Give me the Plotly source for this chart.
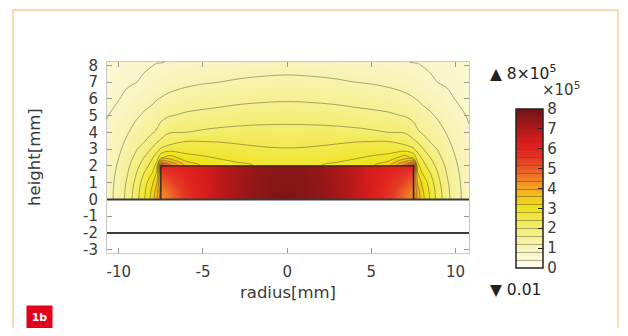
import plotly.graph_objects as go

# ---- data (field in units of 1e5) ----
outer_x = [-10.8, -10, -9.5, -9, -8.5, -8, -7.75, -7.5, -7, -6, -5, -4, -3, -2, -1, 0,
           1, 2, 3, 4, 5, 6, 7, 7.5, 7.75, 8, 8.5, 9, 9.5, 10, 10.8]
outer_y = [0, 0.5, 1, 1.5, 2, 2.5, 3, 3.5, 4, 5, 6, 7, 8.2]
outer_z = [
    [1.00, 1.35, 1.72, 2.20, 2.75, 3.40, 3.90, 4.70, 4.60, 3.50, 3.15, 2.98, 2.88, 2.80, 2.76, 2.75,
     2.76, 2.80, 2.88, 2.98, 3.15, 3.50, 4.60, 4.70, 3.90, 3.40, 2.75, 2.20, 1.72, 1.35, 1.00],
    [1.00, 1.34, 1.70, 2.16, 2.70, 3.30, 3.80, 4.60, 4.60, 3.50, 3.15, 2.98, 2.88, 2.80, 2.76, 2.75,
     2.76, 2.80, 2.88, 2.98, 3.15, 3.50, 4.60, 4.60, 3.80, 3.30, 2.70, 2.16, 1.70, 1.34, 1.00],
    [0.99, 1.32, 1.65, 2.08, 2.60, 3.15, 3.52, 4.60, 4.60, 3.50, 3.15, 2.98, 2.88, 2.80, 2.76, 2.75,
     2.76, 2.80, 2.88, 2.98, 3.15, 3.50, 4.60, 4.60, 3.52, 3.15, 2.60, 2.08, 1.65, 1.32, 0.99],
    [0.97, 1.29, 1.58, 1.97, 2.43, 2.85, 3.28, 4.80, 4.60, 3.50, 3.15, 2.98, 2.88, 2.80, 2.76, 2.75,
     2.76, 2.80, 2.88, 2.98, 3.15, 3.50, 4.60, 4.80, 3.28, 2.85, 2.43, 1.97, 1.58, 1.29, 0.97],
    [0.95, 1.25, 1.50, 1.85, 2.20, 2.60, 2.95, 5.60, 4.60, 3.50, 3.15, 2.98, 2.88, 2.80, 2.76, 2.75,
     2.76, 2.80, 2.88, 2.98, 3.15, 3.50, 4.60, 5.60, 2.95, 2.60, 2.20, 1.85, 1.50, 1.25, 0.95],
    [0.92, 1.20, 1.42, 1.68, 2.00, 2.37, 2.60, 3.10, 3.40, 2.95, 2.85, 2.76, 2.70, 2.65, 2.62, 2.61,
     2.62, 2.65, 2.70, 2.76, 2.85, 2.95, 3.40, 3.10, 2.60, 2.37, 2.00, 1.68, 1.42, 1.20, 0.92],
    [0.89, 1.14, 1.33, 1.55, 1.78, 2.05, 2.25, 2.45, 2.60, 2.62, 2.60, 2.55, 2.50, 2.46, 2.43, 2.42,
     2.43, 2.46, 2.50, 2.55, 2.60, 2.62, 2.60, 2.45, 2.25, 2.05, 1.78, 1.55, 1.33, 1.14, 0.89],
    [0.86, 1.08, 1.25, 1.44, 1.56, 1.82, 1.93, 2.05, 2.20, 2.38, 2.38, 2.37, 2.34, 2.31, 2.29, 2.28,
     2.29, 2.31, 2.34, 2.37, 2.38, 2.38, 2.20, 2.05, 1.93, 1.82, 1.56, 1.44, 1.25, 1.08, 0.86],
    [0.83, 1.02, 1.17, 1.33, 1.45, 1.57, 1.65, 1.80, 1.98, 2.00, 2.06, 2.10, 2.12, 2.13, 2.13, 2.13,
     2.13, 2.13, 2.12, 2.10, 2.06, 2.00, 1.98, 1.80, 1.65, 1.57, 1.45, 1.33, 1.17, 1.02, 0.83],
    [0.77, 0.90, 1.02, 1.14, 1.25, 1.32, 1.40, 1.48, 1.58, 1.66, 1.70, 1.75, 1.80, 1.83, 1.85, 1.86,
     1.85, 1.83, 1.80, 1.75, 1.70, 1.66, 1.58, 1.48, 1.40, 1.32, 1.25, 1.14, 1.02, 0.90, 0.77],
    [0.71, 0.79, 0.87, 0.96, 1.06, 1.14, 1.18, 1.22, 1.29, 1.38, 1.43, 1.45, 1.49, 1.52, 1.54, 1.55,
     1.54, 1.52, 1.49, 1.45, 1.43, 1.38, 1.29, 1.22, 1.18, 1.14, 1.06, 0.96, 0.87, 0.79, 0.71],
    [0.65, 0.71, 0.76, 0.79, 0.85, 0.92, 0.95, 1.00, 1.05, 1.12, 1.17, 1.20, 1.24, 1.27, 1.29, 1.30,
     1.29, 1.27, 1.24, 1.20, 1.17, 1.12, 1.05, 1.00, 0.95, 0.92, 0.85, 0.79, 0.76, 0.71, 0.65],
    [0.58, 0.63, 0.67, 0.70, 0.74, 0.77, 0.79, 0.79, 0.81, 0.85, 0.90, 0.94, 0.97, 0.99, 1.01, 1.02,
     1.01, 0.99, 0.97, 0.94, 0.90, 0.85, 0.81, 0.79, 0.79, 0.77, 0.74, 0.70, 0.67, 0.63, 0.58],
]

inner_x = [-7.5, -7, -6.5, -6, -5, -4, -3, -2, -1, 0, 1, 2, 3, 4, 5, 6, 6.5, 7, 7.5]
inner_y = [0, 0.5, 1, 1.5, 2]
inner_z = [
    [4.2, 4.6, 5.1, 5.6, 6.25, 6.75, 7.15, 7.45, 7.65, 7.7, 7.65, 7.45, 7.15, 6.75, 6.25, 5.6, 5.1, 4.6, 4.2],
    [4.4, 4.8, 5.3, 5.7, 6.3, 6.8, 7.15, 7.45, 7.62, 7.68, 7.62, 7.45, 7.15, 6.8, 6.3, 5.7, 5.3, 4.8, 4.4],
    [4.8, 5.2, 5.55, 5.85, 6.35, 6.8, 7.15, 7.42, 7.6, 7.65, 7.6, 7.42, 7.15, 6.8, 6.35, 5.85, 5.55, 5.2, 4.8],
    [5.3, 5.55, 5.8, 6.0, 6.4, 6.8, 7.12, 7.4, 7.55, 7.6, 7.55, 7.4, 7.12, 6.8, 6.4, 6.0, 5.8, 5.55, 5.3],
    [6.0, 6.0, 6.05, 6.15, 6.45, 6.8, 7.1, 7.35, 7.5, 7.55, 7.5, 7.35, 7.1, 6.8, 6.45, 6.15, 6.05, 6.0, 6.0],
]

# geometry (mm)
conductor_x = [-7.5, -7.5, 7.5, 7.5]
conductor_y = [0, 2, 2, 0]
layer_lines_y = [0, -2]

x_ticks = [-10, -5, 0, 5, 10]
x_ticktext = ["-10", "-5", "0", "5", "10"]
y_ticks = [-3, -2, -1, 0, 1, 2, 3, 4, 5, 6, 7, 8]
y_ticktext = ["-3", "-2", "-1", "0", "1", "2", "3", "4", "5", "6", "7", "8"]
cbar_ticks = [0, 1, 2, 3, 4, 5, 6, 7, 8]

colorscale = [
    [0.0, '#fffcef'],
    [0.125, '#f9f4bd'],
    [0.25, '#f4ee72'],
    [0.375, '#efe31a'],
    [0.44, '#f3c81a'],
    [0.5, '#f5a620'],
    [0.5625, '#f07e26'],
    [0.625, '#ea5a28'],
    [0.6875, '#e53826'],
    [0.75, '#e2231f'],
    [0.8125, '#d21c1c'],
    [0.875, '#b0181a'],
    [1.0, '#6d1414'],
]

FONT = "DejaVu Sans"
TXT = "#3a3a3a"

fig = go.Figure()

fig.add_trace(go.Contour(
    x=outer_x, y=outer_y, z=outer_z,
    zmin=0, zmax=8, colorscale=colorscale,
    contours=dict(start=0.4, end=7.6, size=0.4, coloring='heatmap', showlines=True),
    line=dict(color='rgba(70,70,50,0.5)', width=0.9),
    showscale=True,
    colorbar=dict(
        x=1.1298, xanchor='left', xpad=0,
        y=0.754, yanchor='top', ypad=0,
        lenmode='pixels', len=159, thickness=27,
        outlinecolor='#222', outlinewidth=1.5,
        tickvals=cbar_ticks, ticks='inside', ticklen=5, tickcolor='#222', tickwidth=1.2,
        tickfont=dict(family=FONT, size=15, color=TXT),
    ),
    hoverinfo='skip',
))

fig.add_trace(go.Contour(
    x=inner_x, y=inner_y, z=inner_z,
    zmin=0, zmax=8, colorscale=colorscale,
    contours=dict(start=0.4, end=7.6, size=0.4, coloring='heatmap', showlines=False),
    line=dict(width=0),
    showscale=False, hoverinfo='skip',
))

fig.add_trace(go.Scatter(
    x=conductor_x, y=conductor_y, mode='lines',
    line=dict(color='#222', width=1.3), showlegend=False, hoverinfo='skip',
))

for yy in layer_lines_y:
    fig.add_shape(type='line', xref='paper', x0=0, x1=1, yref='y', y0=yy, y1=yy,
                  line=dict(color='#3a3a3a', width=2), layer='above')

# outer frame of the figure
fig.add_shape(type='rect', xref='paper', yref='paper',
              x0=-0.2597, x1=1.4116, y0=-0.6, y1=1.2723,
              line=dict(color='#f6d29c', width=1.5), layer='above')

axis_common = dict(ticks='inside', ticklen=5, tickwidth=1, tickcolor='#9a9a9a',
                   showline=True, linecolor='#c8c8c8', linewidth=1, mirror='ticks',
                   showgrid=False, zeroline=False,
                   tickfont=dict(family=FONT, size=15, color=TXT))

fig.update_xaxes(range=[-10.7, 10.8], tickvals=x_ticks, ticktext=x_ticktext,
                 ticklabelstandoff=5, **axis_common)
fig.update_yaxes(range=[-3.2, 8.2], tickvals=y_ticks, ticktext=y_ticktext,
                 ticklabelstandoff=5, **axis_common)

ann = [
    dict(text="radius[mm]", x=0.5, y=-0.205, xref='paper', yref='paper',
         xanchor='center', yanchor='middle', showarrow=False,
         font=dict(family=FONT, size=16.5, color=TXT)),
    dict(text="height[mm]", x=-0.199, y=0.503, xref='paper', yref='paper',
         xanchor='center', yanchor='middle', showarrow=False, textangle=-90,
         font=dict(family=FONT, size=16.5, color=TXT)),
    dict(text="▲ 8×10<sup>5</sup>", x=1.053, y=0.945, xref='paper', yref='paper',
         xanchor='left', yanchor='middle', showarrow=False,
         font=dict(family=FONT, size=15.5, color='#222')),
    dict(text="×10<sup>5</sup>", x=1.197, y=0.857, xref='paper', yref='paper',
         xanchor='left', yanchor='middle', showarrow=False,
         font=dict(family=FONT, size=15, color=TXT)),
    dict(text="▼ 0.01", x=1.053, y=-0.194, xref='paper', yref='paper',
         xanchor='left', yanchor='middle', showarrow=False,
         font=dict(family=FONT, size=15.5, color='#222')),
    dict(text="<b>1b</b>", x=-0.1865, y=-0.338, xref='paper', yref='paper',
         xanchor='center', yanchor='middle', showarrow=False,
         bgcolor='#e2001a', width=23, height=21,
         font=dict(family=FONT, size=11, color='white')),
]

# the page adds an 8 px body margin on every side; keep the figure inside the window
fig.update_layout(
    width=612, height=320,
    margin=dict(l=99, r=151, t=54, b=75),
    paper_bgcolor='white', plot_bgcolor='white',
    showlegend=False, annotations=ann,
)

fig.write_html("out.html")
